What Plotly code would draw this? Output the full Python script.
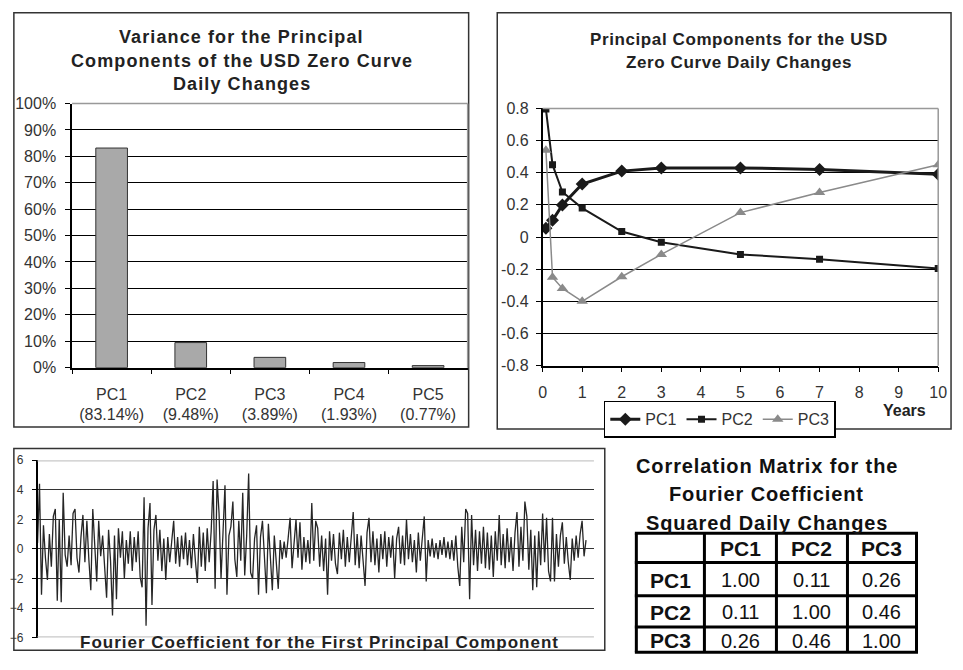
import plotly.graph_objects as go

W, H = 963, 670
FONT = "Liberation Sans, Arial, sans-serif"
INK = "#222222"

# --- Data: variance explained ---
pc_names = ["PC1", "PC2", "PC3", "PC4", "PC5"]
pc_variance = [0.8314, 0.0948, 0.0389, 0.0193, 0.0077]

# --- Data: principal component loadings by maturity (years) ---
maturities = [0.083, 0.25, 0.5, 1, 2, 3, 5, 7, 10]
pc1_loadings = [0.054, 0.104, 0.20, 0.33, 0.41, 0.43, 0.43, 0.42, 0.39]
pc2_loadings = [0.796, 0.45, 0.28, 0.18, 0.034, -0.032, -0.108, -0.138, -0.195]
pc3_loadings = [0.54, -0.25, -0.32, -0.40, -0.247, -0.108, 0.152, 0.277, 0.449]

# --- Data: Fourier coefficient of the first PC ---
fourier_pc1 = [
    0.4, 4.4, -3.1, 1.6, -0.6, -2.1, 1.0, -1.2, 2.2, 2.7,
    -3.5, 2.0, -3.6, 3.8, -0.4, -1.2, 0.9, -1.1, 2.4, 2.7,
    -0.6, -1.6, 0.8, 2.3, -0.9, 1.9, -0.7, -2.8, 2.7, 0.3,
    -2.2, 1.9, -0.5, 0.9, -0.9, -3.3, 1.3, -0.8, -4.5, 0.9,
    -3.4, 1.4, -0.6, 1.2, -2.0, 0.6, -1.0, 1.2, -1.5, 0.8,
    -0.9, 1.2, -1.9, -2.6, 3.5, -5.2, 1.4, 3.1, -3.8, 1.3,
    2.3, -0.8, 1.3, -1.5, 0.7, -2.1, 0.8, -0.9, 0.5, 1.9,
    -1.0, 0.8, -1.2, 0.9, -0.7, 1.1, -1.1, 0.6, -1.3, 1.0,
    -0.8, -2.3, 1.5, -1.2, 1.1, -1.5, 1.4, -0.9, 1.2, 4.6,
    -2.7, 4.7, 2.4, -2.0, 1.1, 4.3, -3.1, 0.9, 1.5, 3.2,
    -0.7, -1.9, 1.9, -0.8, 3.8, -1.8, 0.9, 5.1, -1.6, -2.0,
    0.7, 1.6, -3.1, 0.8, 1.9, -1.1, -3.0, 1.7, -0.9, -2.8,
    0.9, -1.2, -2.7, 0.6, -0.7, 0.5, -0.6, 0.7, 2.1, -1.3,
    0.6, 2.0, -0.6, 1.8, -1.4, 0.8, -0.9, 0.6, -1.0, 3.1,
    -0.8, 1.9, 1.4, -1.2, 0.9, -1.5, 0.7, -3.1, 1.2, -0.8,
    1.0, -1.0, -1.7, 1.1, -0.7, 1.3, -1.2, 0.8, -0.9, 0.9,
    2.5, -1.1, 1.0, -1.3, 0.9, -0.8, -2.5, 1.1, 2.1, -0.9,
    1.2, -1.1, 0.7, -1.6, 1.0, -0.7, 1.2, -1.2, 0.8, -0.6,
    0.9, -2.0, 0.7, 1.5, -1.0, 0.9, -1.1, 2.0, -0.7, 1.0,
    -0.9, 0.6, -1.6, 1.1, -0.8, 0.7, 2.2, -2.2, 0.6, -0.5,
    0.7, -0.6, 0.4, -0.7, 0.6, -0.4, 0.8, -0.6, 0.5, -0.7,
    0.6, -0.8, 0.9, -1.2, -2.5, 1.5, -0.9, 2.7, 2.4, -3.4,
    2.3, -1.1, 1.3, -1.5, 1.2, -1.0, 1.5, -1.3, 1.1, -1.4,
    0.9, -1.9, 1.2, -0.8, 2.3, -1.1, 1.0, -1.3, 1.4, -0.9,
    0.8, -1.5, 1.1, 2.5, -1.2, 1.5, -0.8, 3.2, 2.2, -1.4,
    1.3, -2.8, 0.9, -2.6, 1.2, -1.1, 2.4, -0.9, 2.1, -1.5,
    -2.2, 2.1, -2.2, 1.0, -1.2, 0.9, 1.8, -1.0, 0.8, -0.9,
    -2.1, 0.7, -0.8, 0.9, -0.6, 1.0, 1.9, -0.5, 0.6,
]

# --- Data: correlation matrix table ---
corr_labels = ["PC1", "PC2", "PC3"]
corr_values = [
    ["1.00", "0.11", "0.26"],
    ["0.11", "1.00", "0.46"],
    ["0.26", "0.46", "1.00"],
]


def px_x(x):
    return x / W


def px_y(y):
    return 1 - y / H


fig = go.Figure()

# --- Panel 1: variance bars ---
fig.add_trace(go.Bar(
    x=[f"{n}<br>({v * 100:.2f}%)" for n, v in zip(pc_names, pc_variance)],
    y=pc_variance,
    width=0.4,
    marker=dict(color="#a9a9a9", line=dict(color="#333333", width=1)),
    xaxis="x", yaxis="y", showlegend=False,
))

# --- Panel 2: loadings ---
fig.add_trace(go.Scatter(
    x=maturities, y=pc1_loadings, mode="lines+markers", name="PC1",
    line=dict(color="#1a1a1a", width=3),
    marker=dict(symbol="diamond", size=10, color="#1a1a1a"),
    xaxis="x2", yaxis="y2",
))
fig.add_trace(go.Scatter(
    x=maturities, y=pc2_loadings, mode="lines+markers", name="PC2",
    line=dict(color="#1a1a1a", width=2),
    marker=dict(symbol="square", size=7, color="#1a1a1a"),
    xaxis="x2", yaxis="y2",
))
fig.add_trace(go.Scatter(
    x=maturities, y=pc3_loadings, mode="lines+markers", name="PC3",
    line=dict(color="#8a8a8a", width=1.5),
    marker=dict(symbol="triangle-up", size=10, color="#8a8a8a"),
    xaxis="x2", yaxis="y2",
))

# --- Panel 3: Fourier coefficient series ---
fig.add_trace(go.Scatter(
    x=list(range(len(fourier_pc1))), y=fourier_pc1, mode="lines",
    line=dict(color="#262626", width=1.3),
    xaxis="x3", yaxis="y3", showlegend=False,
))

tick_font = dict(family=FONT, size=16, color="#333333")

fig.update_layout(
    width=W, height=H,
    margin=dict(l=0, r=0, t=0, b=0),
    paper_bgcolor="white", plot_bgcolor="white",
    font=dict(family=FONT, color=INK),
    xaxis=dict(
        domain=[px_x(69), px_x(470)], anchor="y",
        tickfont=tick_font, ticks="outside", ticklen=5, tickcolor="black",
        tickson="boundaries", showline=True, linecolor="black", linewidth=1.5,
        showgrid=False, fixedrange=True, ticklabelstandoff=11,
    ),
    yaxis=dict(
        domain=[px_y(369), px_y(98)], anchor="x", range=[0, 1],
        tickvals=[i / 10 for i in range(11)], tickformat=".0%",
        tickfont=tick_font, ticks="outside", ticklen=5, tickcolor="black",
        showline=True, linecolor="black", linewidth=1.5, ticklabelstandoff=6,
        showgrid=True, gridcolor="black", gridwidth=1, zeroline=False,
    ),
    xaxis2=dict(
        domain=[px_x(546), px_x(947)], anchor="y2", range=[0, 10],
        dtick=1, tickfont=tick_font, ticks="outside", ticklen=5,
        tickcolor="black", showline=True, linecolor="black", linewidth=1.5,
        showgrid=False, zeroline=False, ticklabelstandoff=6,
    ),
    yaxis2=dict(
        domain=[px_y(367), px_y(103)], anchor="x2", range=[-0.8, 0.8],
        tickvals=[-0.8, -0.6, -0.4, -0.2, 0, 0.2, 0.4, 0.6, 0.8],
        ticktext=["-0.8", "-0.6", "-0.4", "-0.2", "0", "0.2", "0.4", "0.6", "0.8"],
        tickfont=tick_font, ticks="outside", ticklen=5, tickcolor="black",
        showline=True, linecolor="black", linewidth=1.5, ticklabelstandoff=4,
        showgrid=True, gridcolor="black", gridwidth=1, zeroline=False,
    ),
    xaxis3=dict(
        domain=[px_x(34), px_x(598)], anchor="y3",
        range=[0, 282], showticklabels=False, showgrid=False,
        zeroline=False, showline=False,
    ),
    yaxis3=dict(
        domain=[px_y(646), px_y(464)], anchor="x3", range=[-6, 6],
        tickvals=[-6, -4, -2, 0, 2, 4, 6],
        tickfont=dict(family=FONT, size=12, color="#333333"),
        ticks="outside", ticklen=4, tickcolor="black", ticklabelstandoff=6,
        showline=True, linecolor="black", linewidth=1.5,
        showgrid=True, gridcolor="#333333", gridwidth=1, zeroline=False,
    ),
    legend=dict(
        orientation="h", x=px_x(608), y=px_y(403), xanchor="left", yanchor="top",
        bordercolor="black", borderwidth=1.5, bgcolor="white",
        font=dict(family=FONT, size=16, color="#333333"),
        itemwidth=30, tracegroupgap=0,
    ),
)

shapes = []
# panel frames
for x0, y0, x1, y1 in [(10, 5, 471, 430), (500, 5, 960, 432), (10, 452, 609, 659)]:
    shapes.append(dict(type="rect", xref="paper", yref="paper",
                       x0=px_x(x0), y0=px_y(y1), x1=px_x(x1), y1=px_y(y0),
                       line=dict(color="#333333", width=1.5)))
# grey plot-area borders (top/right) of the Excel-style charts
for x0, y0, x1, y1 in [(69, 98, 470, 369), (546, 103, 947, 367)]:
    shapes.append(dict(type="line", xref="paper", yref="paper",
                       x0=px_x(x0), y0=px_y(y0), x1=px_x(x1), y1=px_y(y0),
                       line=dict(color="#999999", width=1.5)))
    shapes.append(dict(type="line", xref="paper", yref="paper",
                       x0=px_x(x1), y0=px_y(y0), x1=px_x(x1), y1=px_y(y1),
                       line=dict(color="#999999", width=1.5)))
# grey top/bottom lines of the Fourier panel
for yv in [6, -6]:
    shapes.append(dict(type="line", xref="x3 domain", yref="y3",
                       x0=0, x1=1, y0=yv, y1=yv,
                       line=dict(color="#c8c8c8", width=2.5)))

# correlation table grid
tbl_cols = [641, 710, 783, 855, 925]
tbl_rows = [539, 569, 603, 635, 661]
for cx in tbl_cols:
    shapes.append(dict(type="line", xref="paper", yref="paper",
                       x0=px_x(cx), x1=px_x(cx), y0=px_y(tbl_rows[0]), y1=px_y(tbl_rows[-1]),
                       line=dict(color="black", width=3)))
for ry in tbl_rows:
    shapes.append(dict(type="line", xref="paper", yref="paper",
                       x0=px_x(tbl_cols[0] - 1.5), x1=px_x(tbl_cols[-1] + 1.5),
                       y0=px_y(ry), y1=px_y(ry),
                       line=dict(color="black", width=3)))
fig.update_layout(shapes=shapes)

annotations = []


def text(x, y, s, size, bold=True, color=INK, spacing=0):
    if spacing:
        s = f'<span style="letter-spacing:{spacing}px">{s}</span>'
    annotations.append(dict(
        xref="paper", yref="paper", x=px_x(x), y=px_y(y),
        text=f"<b>{s}</b>" if bold else s, showarrow=False,
        xanchor="center", yanchor="middle",
        font=dict(family=FONT, size=size, color=color),
    ))


for i, line in enumerate(["Variance for the Principal",
                          "Components of the USD Zero Curve",
                          "Daily Changes"]):
    text(241, 30 + i * 24, line, 18, spacing=1.1)
for i, line in enumerate(["Principal Components for the USD",
                          "Zero Curve Daily Changes"]):
    text(745, 32 + i * 24, line, 17, spacing=0.6)
text(913, 413, "Years", 16)
text(320, 651, "Fourier Coefficient for the First Principal Component", 17, spacing=1)
for i, line in enumerate(["Correlation Matrix for the",
                          "Fourier Coefficient",
                          "Squared Daily Changes"]):
    text(773, 470 + i * 29, line, 20, color="#111111", spacing=0.9)

col_c = [(tbl_cols[i] + tbl_cols[i + 1]) / 2 for i in range(4)]
row_c = [(tbl_rows[i] + tbl_rows[i + 1]) / 2 for i in range(4)]
for j, lab in enumerate(corr_labels):
    text(col_c[j + 1], row_c[0] + 1, lab, 21, color="#111111")
    text(col_c[0], row_c[j + 1] + 1, lab, 21, color="#111111")
    for k, val in enumerate(corr_values[j]):
        text(col_c[k + 1], row_c[j + 1] + 1, val, 20, bold=False, color="#111111")

fig.update_layout(annotations=annotations)

# the page's default body margin would shift the fixed-size figure by 8px
fig.write_html("out.html", config={"displayModeBar": False},
               post_script="document.body.style.margin='0';")
